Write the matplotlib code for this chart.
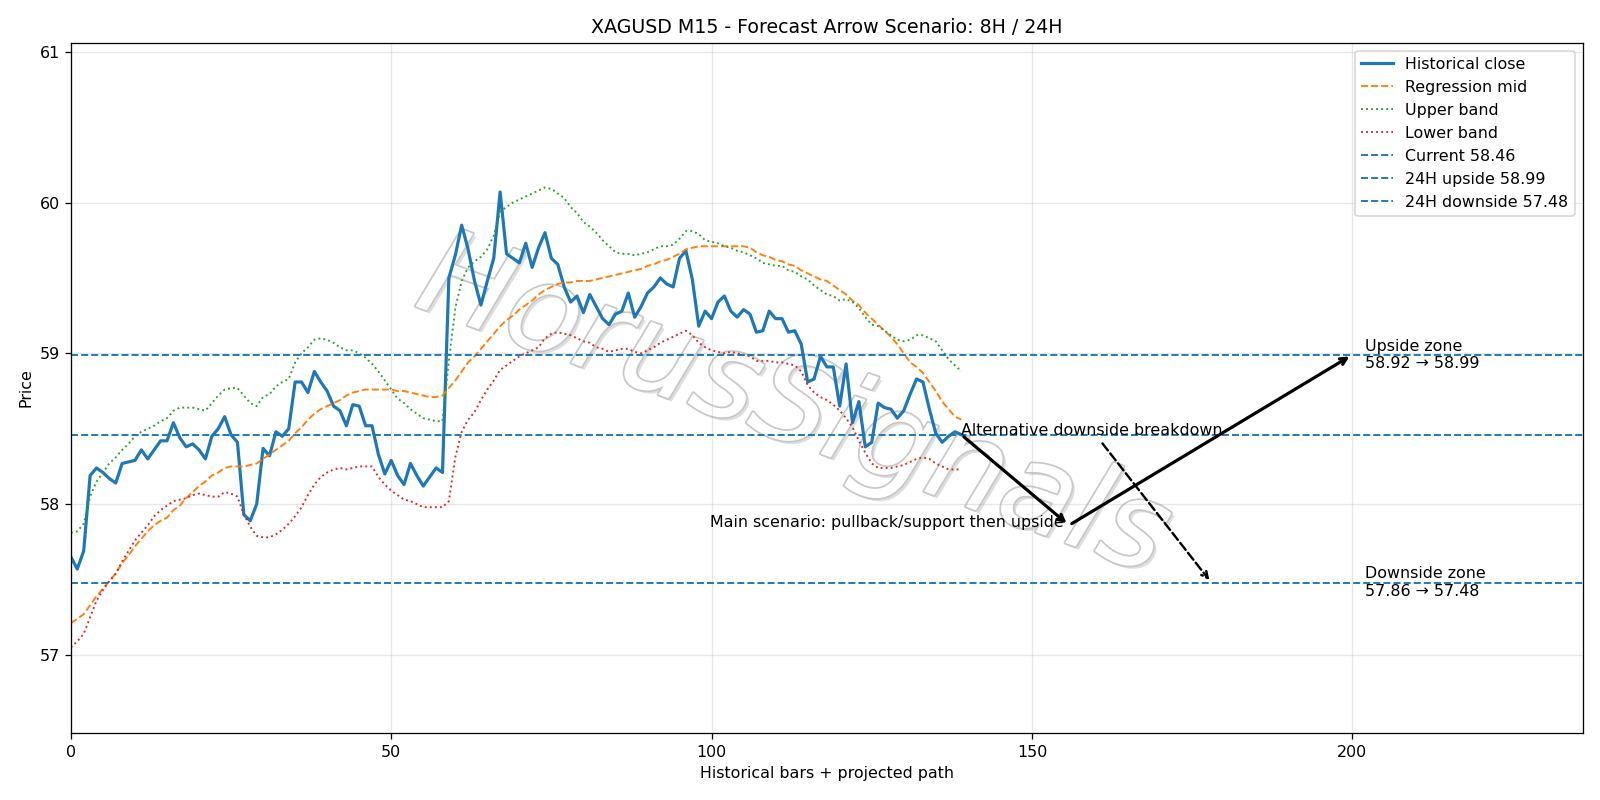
import numpy as np
from matplotlib import pyplot as plt
from matplotlib import patheffects as pe

close = [57.65, 57.57, 57.69, 58.19, 58.24, 58.21, 58.17, 58.14, 58.27, 58.28,
         58.29, 58.36, 58.30, 58.36, 58.42, 58.42, 58.54, 58.44, 58.38, 58.40,
         58.36, 58.30, 58.45, 58.50, 58.58, 58.46, 58.41, 57.93, 57.89, 58.00,
         58.37, 58.32, 58.48, 58.45, 58.50, 58.81, 58.81, 58.74, 58.88, 58.81,
         58.75, 58.65, 58.62, 58.52, 58.66, 58.65, 58.52, 58.52, 58.33, 58.20,
         58.29, 58.19, 58.13, 58.27, 58.19, 58.12, 58.18, 58.24, 58.21, 59.50,
         59.65, 59.85, 59.69, 59.48, 59.32, 59.48, 59.63, 60.07, 59.66, 59.63,
         59.60, 59.73, 59.57, 59.70, 59.80, 59.63, 59.59, 59.44, 59.34, 59.38,
         59.27, 59.39, 59.31, 59.23, 59.19, 59.26, 59.28, 59.40, 59.24, 59.31,
         59.40, 59.44, 59.50, 59.46, 59.44, 59.63, 59.68, 59.49, 59.18, 59.28,
         59.23, 59.34, 59.38, 59.28, 59.24, 59.29, 59.26, 59.14, 59.15, 59.28,
         59.23, 59.23, 59.14, 59.15, 59.06, 58.81, 58.83, 58.98, 58.91, 58.91,
         58.65, 58.93, 58.54, 58.68, 58.38, 58.41, 58.67, 58.64, 58.63, 58.57,
         58.62, 58.73, 58.83, 58.81, 58.63, 58.47, 58.41, 58.45, 58.48, 58.46]

regression_mid = [57.21, 57.24, 57.27, 57.33, 57.39, 57.44, 57.49, 57.54, 57.61, 57.66,
                  57.72, 57.77, 57.82, 57.86, 57.89, 57.91, 57.96, 57.99, 58.04, 58.08,
                  58.12, 58.15, 58.19, 58.21, 58.24, 58.25, 58.25, 58.25, 58.26, 58.27,
                  58.30, 58.33, 58.36, 58.39, 58.42, 58.47, 58.51, 58.56, 58.60, 58.63,
                  58.65, 58.67, 58.69, 58.72, 58.74, 58.75, 58.76, 58.76, 58.76, 58.76,
                  58.76, 58.75, 58.75, 58.74, 58.73, 58.72, 58.71, 58.71, 58.72, 58.77,
                  58.82, 58.88, 58.94, 58.98, 59.03, 59.08, 59.13, 59.18, 59.22, 59.25,
                  59.29, 59.32, 59.35, 59.39, 59.42, 59.44, 59.46, 59.47, 59.47, 59.48,
                  59.48, 59.48, 59.49, 59.50, 59.51, 59.52, 59.53, 59.54, 59.55, 59.56,
                  59.58, 59.59, 59.61, 59.62, 59.64, 59.66, 59.69, 59.70, 59.71, 59.71,
                  59.71, 59.71, 59.71, 59.71, 59.71, 59.71, 59.70, 59.67, 59.65, 59.64,
                  59.62, 59.61, 59.59, 59.58, 59.55, 59.53, 59.51, 59.49, 59.48, 59.45,
                  59.42, 59.39, 59.35, 59.32, 59.27, 59.23, 59.19, 59.15, 59.11, 59.06,
                  59.00, 58.94, 58.91, 58.87, 58.81, 58.75, 58.68, 58.63, 58.58, 58.56]

upper_band = [57.81, 57.82, 57.87, 58.05, 58.15, 58.21, 58.27, 58.31, 58.36, 58.40,
              58.45, 58.48, 58.50, 58.52, 58.55, 58.57, 58.62, 58.64, 58.64, 58.64,
              58.63, 58.62, 58.67, 58.72, 58.76, 58.77, 58.77, 58.72, 58.67, 58.65,
              58.71, 58.73, 58.78, 58.81, 58.83, 58.94, 59.00, 59.04, 59.09, 59.10,
              59.09, 59.07, 59.04, 59.02, 59.02, 59.00, 58.97, 58.93, 58.88, 58.82,
              58.76, 58.70, 58.67, 58.63, 58.60, 58.57, 58.56, 58.55, 58.55, 58.95,
              59.30, 59.48, 59.57, 59.61, 59.64, 59.69, 59.78, 59.94, 59.97, 60.00,
              60.02, 60.04, 60.06, 60.08, 60.10, 60.09, 60.06, 60.03, 59.97, 59.93,
              59.87, 59.84, 59.80, 59.75, 59.71, 59.67, 59.66, 59.66, 59.65, 59.66,
              59.67, 59.69, 59.71, 59.71, 59.72, 59.76, 59.81, 59.81, 59.79, 59.75,
              59.74, 59.73, 59.71, 59.70, 59.68, 59.67, 59.65, 59.63, 59.60, 59.59,
              59.58, 59.58, 59.55, 59.54, 59.51, 59.49, 59.45, 59.42, 59.39, 59.38,
              59.35, 59.36, 59.34, 59.30, 59.24, 59.19, 59.18, 59.15, 59.12, 59.09,
              59.08, 59.09, 59.12, 59.12, 59.10, 59.08, 59.02, 58.96, 58.92, 58.88]

lower_band = [57.05, 57.09, 57.14, 57.25, 57.36, 57.43, 57.49, 57.54, 57.62, 57.69,
              57.76, 57.81, 57.86, 57.92, 57.96, 57.99, 58.02, 58.03, 58.04, 58.06,
              58.07, 58.06, 58.05, 58.05, 58.08, 58.07, 58.05, 57.93, 57.85, 57.79,
              57.78, 57.78, 57.80, 57.83, 57.87, 57.92, 57.98, 58.06, 58.13, 58.18,
              58.21, 58.23, 58.24, 58.23, 58.24, 58.25, 58.25, 58.25, 58.18, 58.13,
              58.09, 58.06, 58.03, 58.02, 58.00, 57.98, 57.98, 57.98, 57.98, 58.02,
              58.31, 58.48, 58.56, 58.61, 58.69, 58.76, 58.82, 58.89, 58.92, 58.95,
              58.98, 59.00, 59.02, 59.04, 59.10, 59.13, 59.14, 59.13, 59.12, 59.10,
              59.08, 59.07, 59.04, 59.03, 59.01, 59.02, 59.03, 59.03, 59.01, 59.00,
              59.02, 59.04, 59.07, 59.09, 59.11, 59.13, 59.15, 59.12, 59.07, 59.04,
              59.02, 59.01, 59.00, 59.01, 59.00, 58.99, 58.98, 58.95, 58.95, 58.95,
              58.94, 58.94, 58.93, 58.92, 58.88, 58.79, 58.74, 58.71, 58.69, 58.66,
              58.62, 58.57, 58.51, 58.42, 58.34, 58.27, 58.24, 58.24, 58.24, 58.25,
              58.26, 58.28, 58.30, 58.31, 58.30, 58.27, 58.25, 58.23, 58.23, 58.23]

current_price = 58.46
upside_target = 58.99
downside_target = 57.48
support_level = 57.86
upside_zone = (58.92, 58.99)
downside_zone = (57.86, 57.48)

last_bar = len(close) - 1
pullback_bar = 155.8
upside_bar = 200
breakdown_bar = 178
horizon = 96

fig, ax = plt.subplots(figsize=(14, 7))
x = np.arange(len(close))

ax.plot(x, close, color="C0", lw=2, label="Historical close")
ax.plot(x, regression_mid, "--", color="C1", lw=1.2, label="Regression mid")
ax.plot(x, upper_band, ":", color="C2", lw=1.2, label="Upper band")
ax.plot(x, lower_band, ":", color="C3", lw=1.2, label="Lower band")
ax.axhline(current_price, ls="--", color="C0", lw=1.2, label=f"Current {current_price:.2f}")
ax.axhline(upside_target, ls="--", color="C0", lw=1.2, label=f"24H upside {upside_target:.2f}")
ax.axhline(downside_target, ls="--", color="C0", lw=1.2, label=f"24H downside {downside_target:.2f}")

# main scenario: pullback to support, then push up
ax.annotate("", xy=(pullback_bar, support_level), xytext=(last_bar, current_price),
            arrowprops=dict(arrowstyle="->", lw=2, color="black"))
ax.annotate("", xy=(upside_bar, upside_target), xytext=(pullback_bar, support_level),
            arrowprops=dict(arrowstyle="->", lw=2, color="black"))
ax.text(pullback_bar - 0.8, support_level + 0.02, "Main scenario: pullback/support then upside",
        ha="right", va="center", fontsize=10)

# alternative scenario
ax.annotate("Alternative downside breakdown", xy=(breakdown_bar, downside_target),
            xytext=(last_bar, current_price), fontsize=10,
            arrowprops=dict(arrowstyle="->", lw=1.5, ls="--", color="black"))

ax.text(last_bar + 63, upside_target, f"Upside zone\n{upside_zone[0]:.2f} → {upside_zone[1]:.2f}",
        va="center", fontsize=10)
ax.text(last_bar + 63, downside_target, f"Downside zone\n{downside_zone[0]:.2f} → {downside_zone[1]:.2f}",
        va="center", fontsize=10)

# watermark
ax.text(0.478, 0.47, "HorusSignals", transform=ax.transAxes, fontsize=76, style="italic",
        color="white", rotation=-20, ha="center", va="center", zorder=0,
        path_effects=[pe.withSimplePatchShadow(offset=(2, -2), shadow_rgbFace="#dedede", alpha=1.0),
                      pe.withStroke(linewidth=2.2, foreground="#c8c8c8")])

ax.set_xlim(0, last_bar + horizon + 1)
ax.set_ylim(56.48, 61.06)
ax.set_title("XAGUSD M15 - Forecast Arrow Scenario: 8H / 24H")
ax.set_xlabel("Historical bars + projected path")
ax.set_ylabel("Price")
ax.grid(alpha=0.3)
ax.legend(loc="upper right")

fig.tight_layout()
fig.savefig("out.png", dpi=1600 / 14)
